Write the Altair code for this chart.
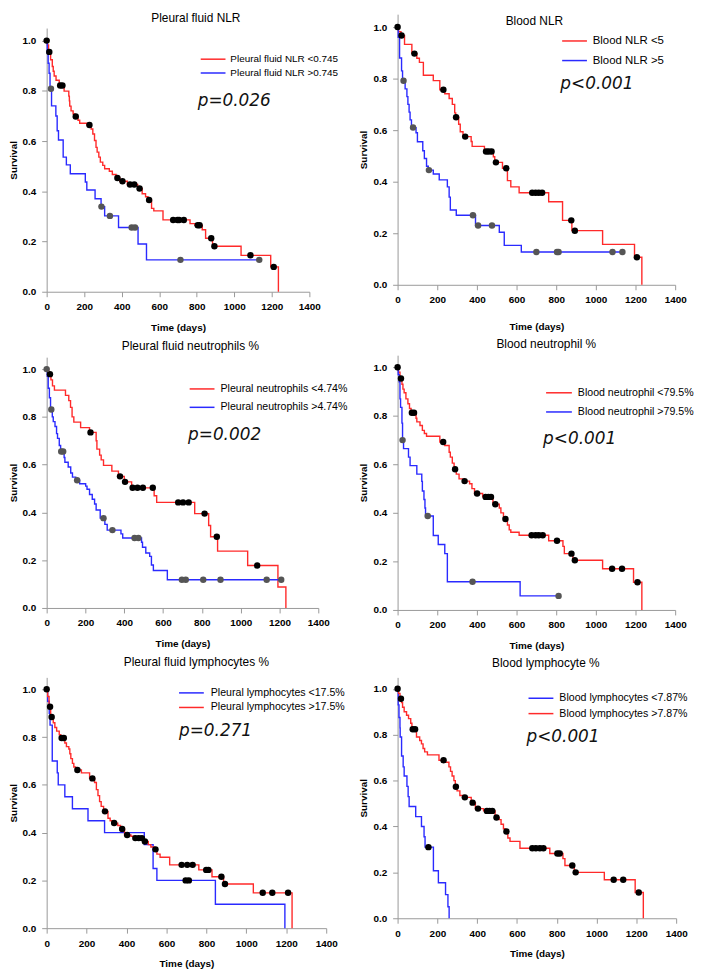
import altair as alt
import pandas as pd

RED = "#ff2a2a"
BLUE = "#2a2aff"
DOT_RED = "#000000"
DOT_BLUE = "#555555"

# ---------------- Panel 1: Pleural fluid NLR ----------------
p1_red_t = [0, 4, 10, 21, 30, 35, 40, 50, 67, 93, 118, 121, 123, 130, 141, 150, 167, 176, 214, 237,
            246, 255, 263, 269, 278, 286, 299, 309, 334, 350, 370, 390, 430, 485, 509, 527, 540, 559, 571, 620,
            764, 790, 829, 847, 884, 1036, 1194, 1235]
p1_red_s = [1.0, 0.983, 0.955, 0.924, 0.897, 0.878, 0.859, 0.842, 0.821, 0.799, 0.779, 0.76, 0.739, 0.72, 0.708, 0.698, 0.683, 0.671, 0.664, 0.648,
            0.628, 0.602, 0.575, 0.556, 0.536, 0.516, 0.503, 0.49, 0.48, 0.467, 0.453, 0.44, 0.427, 0.411, 0.39, 0.378, 0.365, 0.332, 0.322, 0.286,
            0.271, 0.265, 0.247, 0.213, 0.181, 0.145, 0.099, 0.0]
p1_red_c = [0, 14, 72, 84, 155, 228, 377, 404, 444, 467, 495, 546, 674, 697, 706, 731, 805, 815, 877, 894, 1086, 1210]
p1_blue_t = [0, 3, 8, 13, 18, 26, 49, 56, 63, 88, 105, 126, 206, 214, 258, 290, 309, 383, 487, 532, 1133]
p1_blue_s = [1.0, 0.95, 0.91, 0.87, 0.808, 0.74, 0.70, 0.641, 0.604, 0.536, 0.505, 0.47, 0.437, 0.405, 0.37, 0.339, 0.302, 0.256, 0.19, 0.127, 0.127]
p1_blue_c = [23, 292, 337, 453, 471, 713, 1133]

# ---------------- Panel 2: Blood NLR ----------------
p2_red_t = [0, 5, 17, 35, 72, 97, 110, 130, 180, 213, 238, 260, 276, 288, 293, 308, 316, 330, 371, 376,
            438, 483, 490, 529, 554, 571, 613, 762, 832, 879, 1034, 1195, 1232]
p2_red_s = [1.0, 0.982, 0.967, 0.933, 0.897, 0.879, 0.863, 0.813, 0.792, 0.757, 0.741, 0.723, 0.70, 0.667, 0.65, 0.623, 0.594, 0.575, 0.556, 0.537,
            0.517, 0.497, 0.475, 0.452, 0.404, 0.38, 0.357, 0.322, 0.25, 0.21, 0.157, 0.107, 0.0]
p2_red_c = [0, 20, 85, 231, 295, 341, 446, 459, 474, 496, 548, 679, 696, 712, 729, 876, 894, 1207]
p2_blue_t = [0, 3, 10, 20, 25, 38, 47, 52, 58, 63, 70, 93, 100, 127, 135, 146, 155, 180, 210, 251,
             260, 266, 296, 393, 513, 538, 624, 1134]
p2_blue_s = [1.0, 0.96, 0.88, 0.83, 0.792, 0.76, 0.73, 0.70, 0.67, 0.64, 0.61, 0.59, 0.555, 0.52, 0.49, 0.46, 0.445, 0.43, 0.407, 0.38,
             0.34, 0.29, 0.27, 0.23, 0.204, 0.153, 0.127, 0.127]
p2_blue_c = [30, 78, 158, 380, 406, 476, 700, 804, 812, 1084, 1134]

# ---------------- Panel 3: Pleural fluid neutrophils % ----------------
p3_red_t = [0, 10, 22, 30, 40, 97, 114, 123, 131, 140, 175, 221, 255, 259, 273, 281, 293, 336, 370, 400,
            438, 554, 567, 763, 835, 845, 881, 1036, 1192, 1233]
p3_red_s = [1.0, 0.979, 0.955, 0.93, 0.912, 0.89, 0.868, 0.84, 0.80, 0.778, 0.755, 0.735, 0.70, 0.665, 0.64, 0.62, 0.597, 0.573, 0.551, 0.528,
            0.503, 0.47, 0.442, 0.395, 0.345, 0.298, 0.238, 0.178, 0.088, 0.0]
p3_red_c = [17, 226, 378, 404, 443, 468, 496, 547, 678, 703, 732, 814, 877, 1085]
p3_blue_t = [0, 3, 8, 14, 20, 29, 34, 43, 51, 56, 65, 72, 90, 94, 111, 124, 133, 150, 170, 201,
             208, 221, 235, 247, 255, 276, 300, 312, 383, 392, 489, 494, 511, 531, 540, 550, 622, 1209]
p3_blue_s = [1.0, 0.97, 0.92, 0.88, 0.831, 0.80, 0.78, 0.76, 0.73, 0.71, 0.68, 0.655, 0.63, 0.61, 0.59, 0.565, 0.548, 0.535, 0.52, 0.51,
             0.497, 0.475, 0.455, 0.435, 0.41, 0.376, 0.35, 0.326, 0.31, 0.293, 0.275, 0.254, 0.23, 0.216, 0.18, 0.157, 0.118, 0.118]
p3_blue_c = [0, 24, 75, 85, 157, 293, 339, 453, 473, 697, 717, 807, 896, 1134, 1209]

# ---------------- Panel 4: Blood neutrophil % ----------------
p4_red_t = [0, 5, 12, 22, 27, 33, 42, 52, 60, 68, 93, 97, 113, 125, 135, 146, 213, 238, 260, 266,
            276, 285, 296, 310, 330, 363, 375, 388, 429, 481, 513, 521, 534, 554, 563, 571, 613, 762, 834, 841,
            884, 1034, 1190, 1232]
p4_red_s = [1.0, 0.98, 0.954, 0.93, 0.91, 0.895, 0.87, 0.85, 0.83, 0.813, 0.79, 0.775, 0.76, 0.74, 0.727, 0.716, 0.692, 0.678, 0.65, 0.63,
            0.605, 0.58, 0.56, 0.54, 0.531, 0.52, 0.50, 0.48, 0.466, 0.436, 0.42, 0.40, 0.375, 0.35, 0.33, 0.32, 0.308, 0.285, 0.262, 0.232,
            0.205, 0.17, 0.114, 0.0]
p4_red_c = [0, 17, 72, 83, 230, 290, 338, 401, 444, 458, 471, 493, 544, 676, 696, 712, 732, 804, 877, 894, 1082, 1132, 1210]
p4_blue_t = [0, 3, 8, 12, 15, 22, 25, 30, 55, 63, 97, 122, 125, 133, 138, 141, 180, 205, 238, 251, 618, 812]
p4_blue_s = [1.0, 0.97, 0.94, 0.87, 0.835, 0.77, 0.70, 0.665, 0.63, 0.595, 0.56, 0.53, 0.49, 0.455, 0.42, 0.387, 0.307, 0.27, 0.232, 0.116, 0.058, 0.058]
p4_blue_c = [25, 152, 378, 812]

# ---------------- Panel 5: Pleural fluid lymphocytes % ----------------
p5_blue_t = [0, 5, 13, 17, 28, 53, 58, 91, 129, 207, 290, 489, 533, 552, 845, 1193]
p5_blue_s = [1.0, 0.95, 0.90, 0.85, 0.70, 0.65, 0.60, 0.55, 0.50, 0.45, 0.40, 0.35, 0.25, 0.20, 0.10, 0.0]
p5_blue_c = [696, 712]
p5_red_t = [0, 5, 12, 20, 33, 41, 50, 63, 70, 91, 99, 111, 116, 121, 129, 136, 145, 174, 215, 240,
            249, 257, 265, 273, 285, 307, 318, 330, 356, 370, 390, 422, 439, 485, 509, 522, 540, 552, 568, 616,
            762, 828, 886, 1035, 1229]
p5_red_s = [1.0, 0.97, 0.927, 0.884, 0.86, 0.84, 0.825, 0.81, 0.796, 0.775, 0.76, 0.75, 0.73, 0.71, 0.69, 0.675, 0.662, 0.65, 0.627, 0.61,
            0.58, 0.555, 0.53, 0.51, 0.489, 0.46, 0.45, 0.44, 0.43, 0.415, 0.39, 0.385, 0.377, 0.363, 0.35, 0.34, 0.33, 0.31, 0.297, 0.265,
            0.244, 0.215, 0.185, 0.148, 0.0]
p5_red_c = [0, 17, 25, 75, 86, 154, 229, 292, 338, 378, 403, 444, 461, 477, 492, 545, 676, 704, 731, 799, 810, 875, 893, 1082, 1130, 1209]

# ---------------- Panel 6: Blood lymphocyte % ----------------
p6_blue_t = [0, 3, 7, 12, 13, 20, 28, 33, 47, 53, 58, 91, 120, 133, 138, 180, 205, 241, 253, 259]
p6_blue_s = [1.0, 0.93, 0.875, 0.83, 0.79, 0.707, 0.66, 0.62, 0.575, 0.53, 0.487, 0.443, 0.40, 0.355, 0.31, 0.207, 0.155, 0.103, 0.05, 0.0]
p6_blue_c = [155]
p6_red_t = [0, 5, 12, 20, 25, 33, 45, 55, 66, 72, 95, 111, 120, 128, 136, 150, 208, 238, 258, 266,
            274, 283, 290, 299, 313, 330, 370, 391, 432, 490, 510, 520, 532, 540, 554, 565, 615, 765, 831, 841,
            888, 1039, 1194, 1235]
p6_red_s = [1.0, 0.98, 0.957, 0.94, 0.92, 0.90, 0.885, 0.87, 0.85, 0.824, 0.79, 0.775, 0.76, 0.74, 0.725, 0.712, 0.689, 0.68, 0.66, 0.64,
            0.62, 0.60, 0.573, 0.555, 0.535, 0.527, 0.504, 0.478, 0.468, 0.439, 0.43, 0.41, 0.39, 0.378, 0.35, 0.335, 0.305, 0.282, 0.26, 0.23,
            0.20, 0.168, 0.112, 0.0]
p6_red_c = [0, 17, 76, 88, 231, 293, 338, 377, 404, 449, 462, 476, 497, 547, 677, 695, 715, 733, 803, 815, 878, 895, 1086, 1134, 1212]

x_ticks = [0, 200, 400, 600, 800, 1000, 1200, 1400]
y_ticks = [0.0, 0.2, 0.4, 0.6, 0.8, 1.0]


def step_value(ts, ss, t):
    v = ss[0]
    for ti, si in zip(ts, ss):
        if ti <= t:
            v = si
    return v


def panel(title, series, ptext, ppos, w, h, tdx, toff, leg, yrange=None, xtp=11):
    # series: (label, times, surv, censored, line colour, dot colour) in legend order
    # leg: (line start day, line end day, label day, [row survival values], font size)
    lines, dots, legl = [], [], []
    for i, (label, ts, ss, cs, lc, dc) in enumerate(series):
        for t, s in zip(ts, ss):
            lines.append({"t": t, "s": s, "g": label, "lc": lc})
        for c in cs:
            dots.append({"t": c, "s": step_value(ts, ss, c), "fc": dc})
        legl.append({"t": leg[0], "t2": leg[1], "tt": leg[2], "s": leg[3][i], "label": label, "lc": lc})
    ldf = pd.DataFrame(lines)
    ddf = pd.DataFrame(dots)
    gdf = pd.DataFrame(legl)
    xs = alt.Scale(domain=[0, 1400], nice=False)
    if yrange is None:
        ys = alt.Scale(domain=[0, 1.05], nice=False)
    else:
        ys = alt.Scale(domain=[0, 1.05], nice=False, range=yrange)
    xa = alt.Axis(values=x_ticks, format="d", title="Time (days)", labelPadding=5, titlePadding=xtp,
                  labelFlush=False, labelOverlap=False)
    ya = alt.Axis(values=y_ticks, format=".1f", title="Survival", labelPadding=6, titlePadding=4,
                  labelOverlap=False)
    X = alt.X("t:Q", scale=xs, axis=xa)
    Y = alt.Y("s:Q", scale=ys, axis=ya)
    line = alt.Chart(ldf).mark_line(interpolate="step-after", strokeWidth=1.4).encode(
        x=X, y=Y,
        stroke=alt.Stroke("lc:N", scale=None),
        detail="g:N",
        order="t:Q",
    )
    pts = alt.Chart(ddf).mark_circle(size=42, opacity=1).encode(
        x=X, y=Y,
        fill=alt.Fill("fc:N", scale=None),
    )
    txt = alt.Chart(pd.DataFrame([{"t": ppos[0], "s": ppos[1], "label": ptext}])).mark_text(
        align="left", baseline="middle", font="DejaVu Sans", fontStyle="italic", fontSize=17, color="#111111"
    ).encode(x=X, y=Y, text="label:N")
    leg_rule = alt.Chart(gdf).mark_rule(strokeWidth=1.5).encode(
        x=X, x2="t2:Q", y=Y,
        stroke=alt.Stroke("lc:N", scale=None),
    )
    leg_txt = alt.Chart(gdf).mark_text(
        align="left", baseline="middle", font="Liberation Sans", fontSize=leg[4], color="#000000"
    ).encode(x=alt.X("tt:Q", scale=xs, axis=xa), y=Y, text="label:N")
    return alt.layer(line, pts, txt, leg_rule, leg_txt).properties(
        width=w, height=h,
        title=alt.TitleParams(title, fontSize=12, font="Liberation Sans", fontWeight="normal",
                              color="#000000", anchor="middle", dx=tdx, offset=toff),
    )


c1 = panel("Pleural fluid NLR",
           [("Pleural fluid NLR <0.745", p1_red_t, p1_red_s, p1_red_c, RED, DOT_RED),
            ("Pleural fluid NLR >0.745", p1_blue_t, p1_blue_s, p1_blue_c, BLUE, DOT_BLUE)],
           "p=0.026", (805, 0.76), 265, 266, 18, 3, (821, 953, 979, [0.926, 0.871], 10))
c2 = panel("Blood NLR",
           [("Blood NLR <5", p2_red_t, p2_red_s, p2_red_c, RED, DOT_RED),
            ("Blood NLR >5", p2_blue_t, p2_blue_s, p2_blue_c, BLUE, DOT_BLUE)],
           "p<0.001", (821, 0.777), 280, 259, -2, -6, (830, 955, 984, [0.946, 0.870], 11.5),
           yrange=[259, -14], xtp=17)
c3 = panel("Pleural fluid neutrophils %",
           [("Pleural neutrophils <4.74%", p3_red_t, p3_red_s, p3_red_c, RED, DOT_RED),
            ("Pleural neutrophils >4.74%", p3_blue_t, p3_blue_s, p3_blue_c, BLUE, DOT_BLUE)],
           "p=0.002", (729, 0.724), 274, 253, 8, 4, (737, 865, 896, [0.917, 0.840], 10.7))
c4 = panel("Blood neutrophil %",
           [("Blood neutrophil <79.5%", p4_red_t, p4_red_s, p4_red_c, RED, DOT_RED),
            ("Blood neutrophil >79.5%", p4_blue_t, p4_blue_s, p4_blue_c, BLUE, DOT_BLUE)],
           "p<0.001", (734, 0.705), 280, 257, 10, 4, (749, 879, 909, [0.895, 0.816], 10.7))
c5 = panel("Pleural fluid lymphocytes %",
           [("Pleural lymphocytes <17.5%", p5_blue_t, p5_blue_s, p5_blue_c, BLUE, DOT_RED),
            ("Pleural lymphocytes >17.5%", p5_red_t, p5_red_s, p5_red_c, RED, DOT_RED)],
           "p=0.271", (663, 0.825), 282, 253, 10, 8, (663, 787, 822, [0.985, 0.924], 10.7))
c6 = panel("Blood lymphocyte %",
           [("Blood lymphocytes <7.87%", p6_blue_t, p6_blue_s, p6_blue_c, BLUE, DOT_RED),
            ("Blood lymphocytes >7.87%", p6_red_t, p6_red_s, p6_red_c, RED, DOT_RED)],
           "p<0.001", (648, 0.788), 281, 243, 9, 7, (658, 783, 813, [0.959, 0.892], 10.7))

left = alt.vconcat(c1, c3, c5, spacing=8)
right = alt.vconcat(c2, c4, c6, spacing=7)

chart = alt.ConcatChart(concat=[left, right], columns=2, align="none", spacing=11).properties(
    padding=0
).configure_axis(
    domainColor="#999999", tickColor="#999999", tickSize=5, grid=False, labelOverlap=False,
    labelFont="Liberation Sans", labelFontWeight="bold", labelFontSize=10, labelColor="#000000",
    titleFont="Liberation Sans", titleFontWeight="bold", titleFontSize=10, titleColor="#000000",
).configure_view(stroke=None)

chart.save("out.html", embed_options={"renderer": "svg", "actions": False})
